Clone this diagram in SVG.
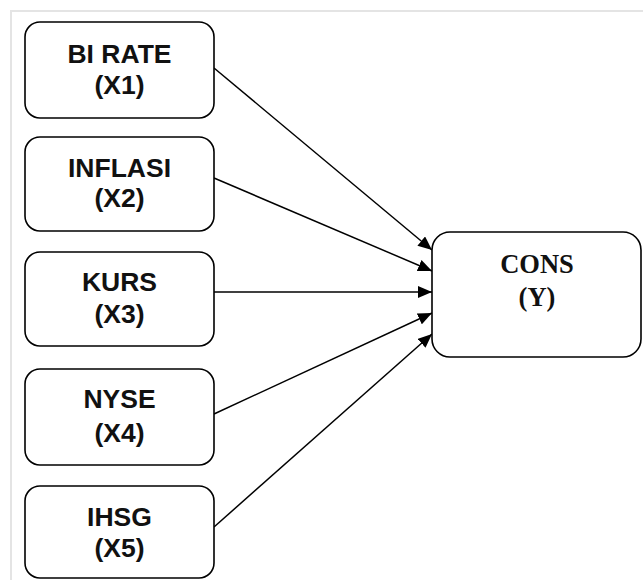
<svg xmlns="http://www.w3.org/2000/svg" width="643" height="580" viewBox="0 0 643 580">
<style>
.box{fill:#fff;stroke:#000;stroke-width:1.6}
.t{font-family:"Liberation Sans",Arial,sans-serif;font-weight:bold;font-size:26.5px;text-anchor:middle;fill:#111}
.ts{font-family:"Liberation Serif","Times New Roman",serif;font-weight:bold;font-size:26.5px;text-anchor:middle;fill:#111}
.c{stroke:#000;stroke-width:1.5;fill:none;marker-end:url(#ah)}
</style>
<defs>
<marker id="ah" markerUnits="userSpaceOnUse" markerWidth="14" markerHeight="12" refX="14" refY="6" orient="auto">
<path d="M0,0 L14,6 L0,12 z" fill="#000"/>
</marker>
</defs>
<rect x="0" y="0" width="643" height="580" fill="#fff"/>
<rect x="11" y="11" width="700" height="700" fill="none" stroke="#e4e4e4" stroke-width="2"/>
<g id="connectors">
<line class="c" x1="214" y1="68" x2="432" y2="250"/>
<line class="c" x1="214" y1="178" x2="432" y2="271"/>
<line class="c" x1="214" y1="292" x2="432" y2="292"/>
<line class="c" x1="214" y1="414" x2="432" y2="313"/>
<line class="c" x1="214" y1="527" x2="432" y2="334"/>
</g>
<g id="x1">
<rect class="box" x="25" y="22" width="189" height="96" rx="15"/>
<text class="t" x="119.5" y="63">BI RATE</text>
<text class="t" x="119.5" y="94">(X1)</text>
</g>
<g id="x2">
<rect class="box" x="25" y="137" width="189" height="94" rx="15"/>
<text class="t" x="119.5" y="177">INFLASI</text>
<text class="t" x="119.5" y="207">(X2)</text>
</g>
<g id="x3">
<rect class="box" x="25" y="252" width="189" height="94" rx="15"/>
<text class="t" x="119.5" y="291">KURS</text>
<text class="t" x="119.5" y="323">(X3)</text>
</g>
<g id="x4">
<rect class="box" x="25" y="369" width="189" height="96" rx="15"/>
<text class="t" x="119.5" y="408">NYSE</text>
<text class="t" x="119.5" y="442">(X4)</text>
</g>
<g id="x5">
<rect class="box" x="25" y="486" width="189" height="92" rx="15"/>
<text class="t" x="119.5" y="526">IHSG</text>
<text class="t" x="119.5" y="557">(X5)</text>
</g>
<g id="y">
<rect class="box" x="432" y="232" width="209" height="125" rx="18"/>
<text class="ts" x="537" y="273">CONS</text>
<text class="ts" x="537" y="306">(Y)</text>
</g>
</svg>
